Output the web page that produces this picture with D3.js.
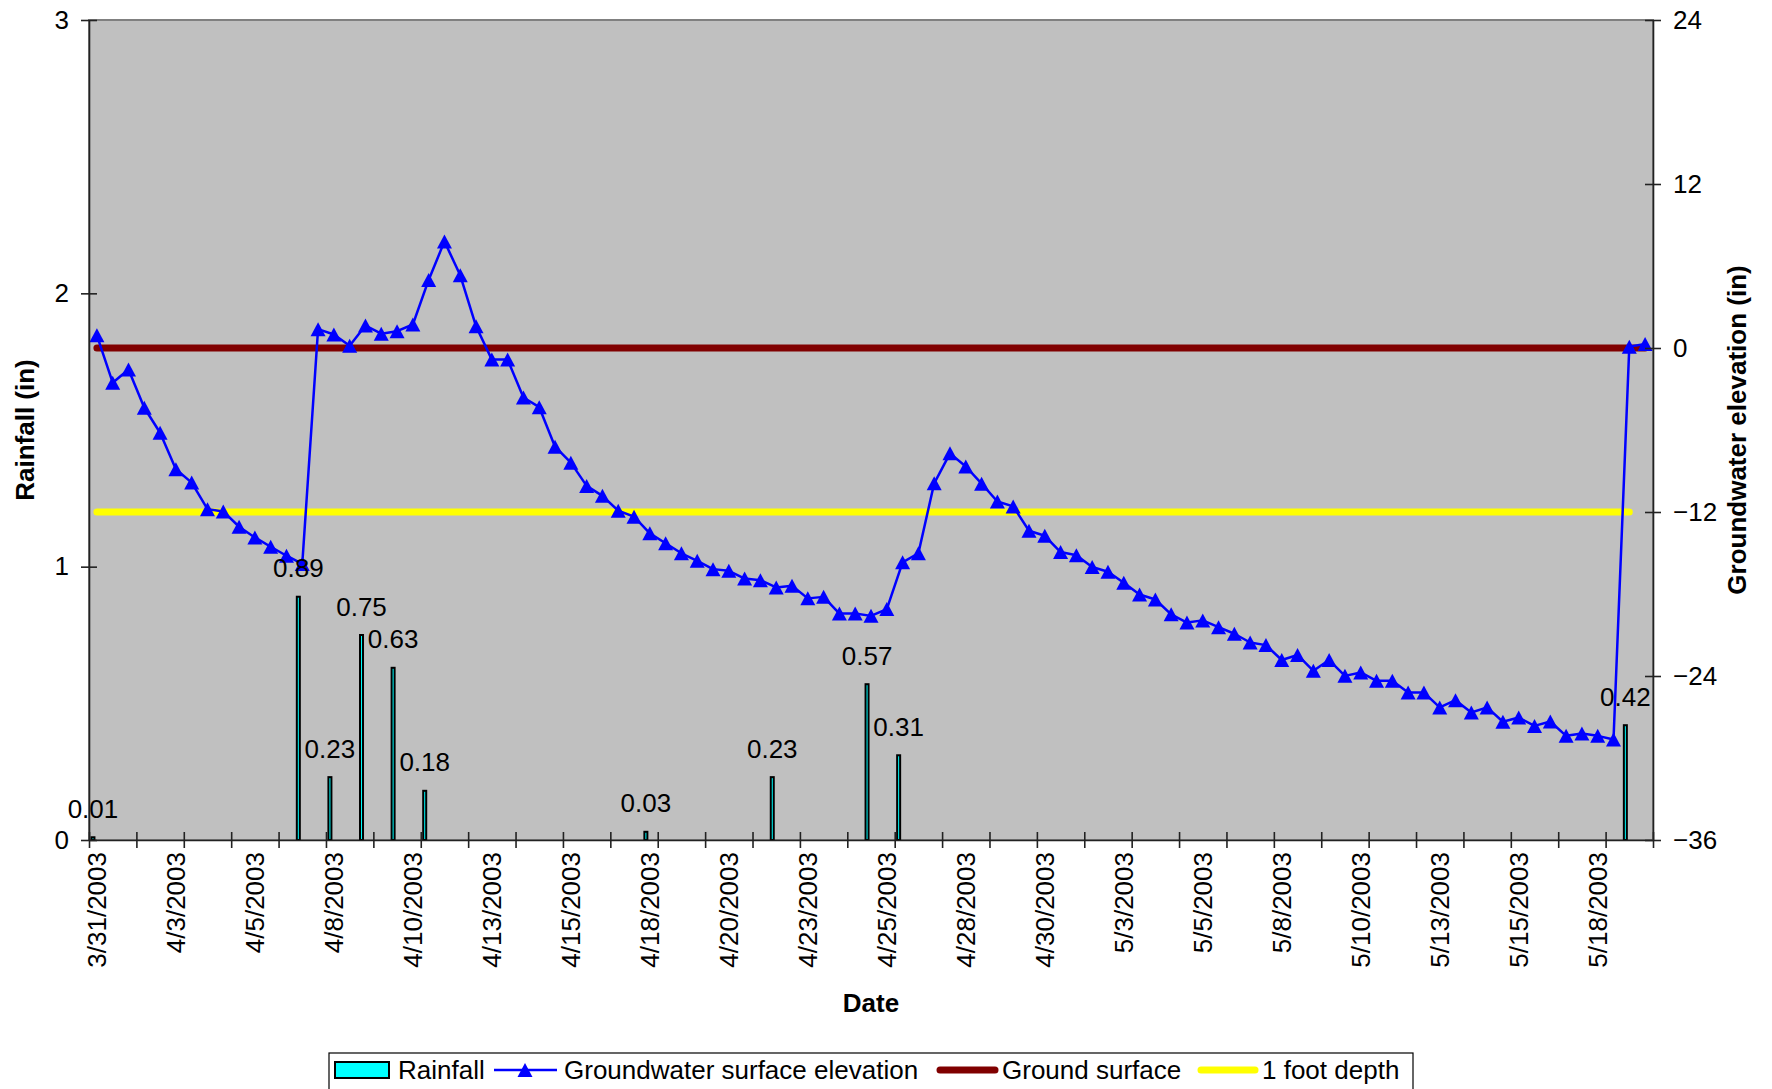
<!DOCTYPE html>
<html>
<head>
<meta charset="utf-8">
<script src="https://cdn.jsdelivr.net/npm/d3@7"></script>
<style>
  html, body { margin: 0; padding: 0; background: #fff; }
  svg { display: block; font-family: "Liberation Sans", Arial, sans-serif; }
</style>
</head>
<body>
<svg id="chart" width="1772" height="1089"></svg>
<script>
// Twice-daily readings, 3/31/2003 through 5/19/2003 (99 readings)
const readingCount = 99;

// Date labels, one every fifth reading
const tickLabelIndex = [0, 5, 10, 15, 20, 25, 30, 35, 40, 45, 50, 55, 60, 65, 70, 75, 80, 85, 90, 95];
const tickLabels = ["3/31/2003", "4/3/2003", "4/5/2003", "4/8/2003", "4/10/2003", "4/13/2003",
  "4/15/2003", "4/18/2003", "4/20/2003", "4/23/2003", "4/25/2003", "4/28/2003", "4/30/2003",
  "5/3/2003", "5/5/2003", "5/8/2003", "5/10/2003", "5/13/2003", "5/15/2003", "5/18/2003"];

// Rainfall events (in): reading index and depth
const rainfallIndex = [0, 13, 15, 17, 19, 21, 35, 43, 49, 51, 97];
const rainfall = [0.01, 0.89, 0.23, 0.75, 0.63, 0.18, 0.03, 0.23, 0.57, 0.31, 0.42];

// Groundwater surface elevation relative to ground (in)
const groundwater = [
  0.93, -2.54, -1.57, -4.37, -6.2, -8.87, -9.85, -11.79, -11.96, -13.08,
  -13.86, -14.54, -15.2, -15.8, 1.38, 0.99, 0.16, 1.64, 1.05, 1.23,
  1.72, 4.98, 7.8, 5.32, 1.59, -0.85, -0.85, -3.62, -4.33, -7.22,
  -8.39, -10.09, -10.82, -11.91, -12.34, -13.56, -14.29, -15.02, -15.57, -16.18,
  -16.3, -16.87, -16.99, -17.52, -17.4, -18.32, -18.21, -19.43, -19.43, -19.6,
  -19.1, -15.68, -15.02, -9.9, -7.71, -8.67, -9.93, -11.23, -11.59, -13.37,
  -13.74, -14.93, -15.17, -16.02, -16.37, -17.18, -18.04, -18.4, -19.49, -20.09,
  -19.93, -20.43, -20.91, -21.55, -21.74, -22.83, -22.46, -23.62, -22.83, -23.99,
  -23.74, -24.35, -24.35, -25.21, -25.21, -26.3, -25.77, -26.67, -26.3, -27.35,
  -27.04, -27.65, -27.33, -28.38, -28.21, -28.38, -28.65, 0.1, 0.3
];

// Reference levels (in) and the readings they span
const groundSurface = { level: 0, from: 0, to: 98 };
const footDepth = { level: -12, from: 0, to: 97 };

// Axis ticks
const leftTicks = [0, 1, 2, 3];
const rightTicks = [-36, -24, -12, 0, 12, 24];

const svg = d3.select("#chart");
const plot = { left: 89, right: 1653, top: 20, bottom: 840 };

const x = d3.scaleBand().domain(d3.range(readingCount)).range([plot.left, plot.right]).padding(0);
const xEdge = d3.scaleLinear().domain([0, readingCount]).range([plot.left, plot.right]);
const yRain = d3.scaleLinear().domain([0, 3]).range([plot.bottom, plot.top]);
const yGw = d3.scaleLinear().domain([-36, 24]).range([plot.bottom, plot.top]);
const bw = x.bandwidth();
const cx = i => x(i) + bw / 2;

// Plot area
svg.append("rect")
  .attr("x", plot.left).attr("y", plot.top)
  .attr("width", plot.right - plot.left).attr("height", plot.bottom - plot.top)
  .attr("fill", "#C0C0C0").attr("stroke", "#808080").attr("stroke-width", 2);

// Rainfall bars
const rain = rainfallIndex.map((idx, k) => ({ idx, v: rainfall[k] }));
const barW = 3;
svg.append("g").selectAll("rect").data(rain).join("rect")
  .attr("x", d => x(d.idx) + bw * 0.25 - barW / 2)
  .attr("y", d => yRain(d.v))
  .attr("width", barW)
  .attr("height", d => yRain(0) - yRain(d.v))
  .attr("fill", "#00FFFF").attr("stroke", "#000").attr("stroke-width", 2);

// Reference lines
function refLine(ref, color) {
  svg.append("line")
    .attr("x1", cx(ref.from)).attr("x2", cx(ref.to))
    .attr("y1", yGw(ref.level)).attr("y2", yGw(ref.level))
    .attr("stroke", color).attr("stroke-width", 7).attr("stroke-linecap", "round");
}
refLine(groundSurface, "#800000");
refLine(footDepth, "#FFFF00");

// Groundwater line with triangle markers
const tri = "M0,-7L7.5,7L-7.5,7Z";
svg.append("path")
  .datum(groundwater)
  .attr("fill", "none").attr("stroke", "#0000FF").attr("stroke-width", 2.5)
  .attr("stroke-linejoin", "round")
  .attr("d", d3.line().x((d, i) => cx(i)).y(d => yGw(d)));
svg.append("g").selectAll("path").data(groundwater).join("path")
  .attr("d", tri)
  .attr("transform", (d, i) => `translate(${cx(i)},${yGw(d)})`)
  .attr("fill", "#0000FF");

// Rainfall value labels
svg.append("g").selectAll("text").data(rain).join("text")
  .attr("x", d => x(d.idx) + bw * 0.25)
  .attr("y", d => yRain(d.v) - 19.5)
  .attr("text-anchor", "middle")
  .attr("font-size", 26).attr("fill", "#000")
  .text(d => d.v.toFixed(2));

// Axes
function crossTicks(g, horizontal) {
  g.selectAll(".tick line").attr(horizontal ? "y1" : "x1", -8).attr(horizontal ? "y2" : "x2", 8);
}
const axL = svg.append("g").attr("transform", `translate(${plot.left},0)`)
  .call(d3.axisLeft(yRain).tickValues(leftTicks).tickFormat(d3.format("d")).tickSizeOuter(0));
crossTicks(axL, false);
axL.selectAll(".tick text").attr("x", -20).attr("font-size", 26).attr("font-family", "Liberation Sans, Arial, sans-serif");

const axR = svg.append("g").attr("transform", `translate(${plot.right},0)`)
  .call(d3.axisRight(yGw).tickValues(rightTicks).tickFormat(d3.format("d")).tickSizeOuter(0));
crossTicks(axR, false);
axR.selectAll(".tick text").attr("x", 20).attr("font-size", 26).attr("font-family", "Liberation Sans, Arial, sans-serif");

const axB = svg.append("g").attr("transform", `translate(0,${plot.bottom})`)
  .call(d3.axisBottom(xEdge).tickValues(d3.range(0, readingCount + 1, 3)).tickFormat("").tickSizeOuter(0));
crossTicks(axB, true);

const axLab = svg.append("g").attr("transform", `translate(0,${plot.bottom})`)
  .call(d3.axisBottom(x).tickValues(tickLabelIndex)
    .tickFormat(i => tickLabels[tickLabelIndex.indexOf(i)]).tickSize(0));
axLab.select(".domain").remove();
axLab.selectAll(".tick text")
  .attr("transform", "rotate(-90)")
  .attr("x", -12).attr("y", 0).attr("dy", "0.35em")
  .attr("text-anchor", "end")
  .attr("font-size", 26).attr("font-family", "Liberation Sans, Arial, sans-serif");

svg.selectAll(".domain, .tick line").attr("stroke", "#222").attr("stroke-width", 1.6);

// Axis titles
svg.append("text").attr("transform", "translate(34,430) rotate(-90)")
  .attr("text-anchor", "middle").attr("font-size", 26).attr("font-weight", "bold")
  .text("Rainfall (in)");
svg.append("text").attr("transform", "translate(1746,430) rotate(-90)")
  .attr("text-anchor", "middle").attr("font-size", 26).attr("font-weight", "bold")
  .text("Groundwater elevation (in)");
svg.append("text").attr("x", 871).attr("y", 1012)
  .attr("text-anchor", "middle").attr("font-size", 26).attr("font-weight", "bold")
  .text("Date");

// Legend
const lg = svg.append("g");
lg.append("rect").attr("x", 329).attr("y", 1053).attr("width", 1084).attr("height", 60)
  .attr("fill", "#fff").attr("stroke", "#000").attr("stroke-width", 1.2);
const ly = 1070;
lg.append("rect").attr("x", 335).attr("y", ly - 8).attr("width", 54).attr("height", 16)
  .attr("fill", "#00FFFF").attr("stroke", "#000").attr("stroke-width", 2);
lg.append("line").attr("x1", 494).attr("x2", 557).attr("y1", ly).attr("y2", ly)
  .attr("stroke", "#0000FF").attr("stroke-width", 2.5);
lg.append("path").attr("d", tri).attr("transform", `translate(525,${ly})`).attr("fill", "#0000FF");
lg.append("line").attr("x1", 940).attr("x2", 995).attr("y1", ly).attr("y2", ly)
  .attr("stroke", "#800000").attr("stroke-width", 7).attr("stroke-linecap", "round");
lg.append("line").attr("x1", 1201).attr("x2", 1255).attr("y1", ly).attr("y2", ly)
  .attr("stroke", "#FFFF00").attr("stroke-width", 7).attr("stroke-linecap", "round");
const legendText = [
  { x: 398, t: "Rainfall" },
  { x: 564, t: "Groundwater surface elevation" },
  { x: 1002, t: "Ground surface" },
  { x: 1262, t: "1 foot depth" }
];
lg.selectAll("text.lt").data(legendText).join("text").attr("class", "lt")
  .attr("x", d => d.x).attr("y", ly).attr("dy", "0.35em")
  .attr("font-size", 26).text(d => d.t);
</script>
</body>
</html>
